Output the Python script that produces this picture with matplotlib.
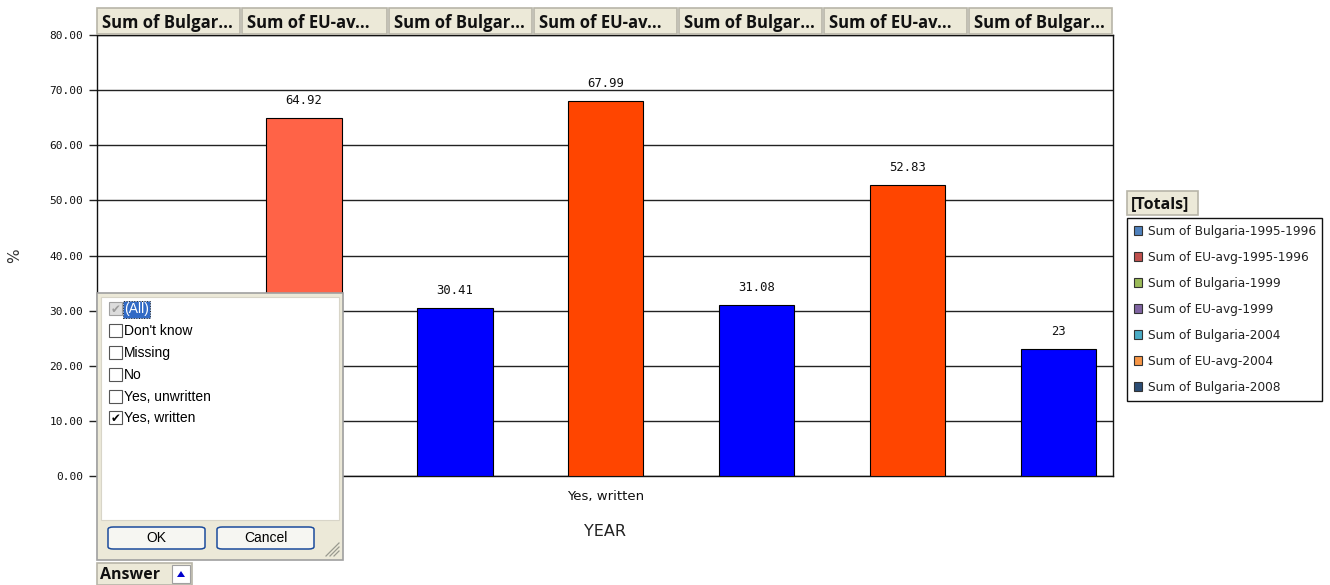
import matplotlib
matplotlib.use("Agg")
import matplotlib.pyplot as plt
from matplotlib.patches import Rectangle, FancyBboxPatch, Polygon
from matplotlib.lines import Line2D

# ---------------- data ----------------
series_names = ["Sum of Bulgaria-1995-1996", "Sum of EU-avg-1995-1996",
                "Sum of Bulgaria-1999", "Sum of EU-avg-1999",
                "Sum of Bulgaria-2004", "Sum of EU-avg-2004",
                "Sum of Bulgaria-2008"]
header_labels = ["Sum of Bulgar...", "Sum of EU-av...", "Sum of Bulgar...",
                 "Sum of EU-av...", "Sum of Bulgar...", "Sum of EU-av...",
                 "Sum of Bulgar..."]
# first value is hidden behind the filter panel (estimated); its label is not visible
values = [26.0, 64.92, 30.41, 67.99, 31.08, 52.83, 23.0]
value_labels = ["", "64.92", "30.41", "67.99", "31.08", "52.83", "23"]
bar_colors = ["#0000FF", "#FF6347", "#0000FF", "#FF4500", "#0000FF", "#FF4500", "#0000FF"]
legend_colors = ["#4F81BD", "#C0504D", "#9BBB59", "#8064A2", "#4BACC6", "#F79646", "#2C4D75"]
category = "Yes, written"
y_ticks = [0, 10, 20, 30, 40, 50, 60, 70, 80]
filter_items = ["(All)", "Don't know", "Missing", "No", "Yes, unwritten", "Yes, written"]
filter_checked = [True, False, False, False, False, True]

W, H = 1330, 585
fig = plt.figure(figsize=(W / 100, H / 100), dpi=100)
fig.patch.set_facecolor("white")


def fx(x):
    return x / W


def fy(y):
    return 1 - y / H


ax = fig.add_axes([fx(97), fy(476), fx(1113) - fx(97), fy(35) - fy(476)])
ax.set_zorder(1)
x = list(range(len(values)))
bars = ax.bar(x, values, width=0.5, color=bar_colors, edgecolor="black",
              linewidth=0.8, zorder=3)
for xi, v, lab in zip(x, values, value_labels):
    if not lab:
        continue
    ax.annotate(lab, (xi, v), xytext=(0, 8), textcoords="offset points",
                ha="center", va="bottom", fontsize=8.8, family="DejaVu Sans Mono",
                color="#111111", zorder=4)

ax.set_ylim(0, 80)
ax.set_xlim(-0.371, 6.361)
ax.set_yticks(y_ticks)
ax.set_yticklabels([f"{t:.2f}" for t in y_ticks], family="DejaVu Sans Mono",
                   fontsize=8, color="#111111")
ax.yaxis.grid(True, color="#222222", linewidth=1.0, zorder=0)
ax.set_axisbelow(True)
ax.tick_params(axis="y", length=6, width=1.0, pad=4, color="#222222")
ax.set_xticks([3])
ax.set_xticklabels([category], fontsize=9.5, family="DejaVu Sans", color="#111111")
ax.tick_params(axis="x", length=0, pad=10)
for s in ["left", "right", "bottom", "top"]:
    ax.spines[s].set_color("#111111")
    ax.spines[s].set_linewidth(1.0)
ax.set_ylabel("%", fontsize=11, color="#333333")
ax.yaxis.set_label_coords((22 - 97) / 1016, 0.5)
ax.set_xlabel("YEAR", fontsize=11.5, color="#222222", family="DejaVu Sans")
ax.xaxis.set_label_coords(0.5, -(531 - 476) / 441)
ax.xaxis.label.set_va("center")

# ---------------- header buttons ----------------
starts = [97, 242, 389, 534, 679, 824, 969]
for i, lab in enumerate(header_labels):
    x0 = starts[i]
    x1 = starts[i + 1] - 2 if i + 1 < len(starts) else 1112
    fig.add_artist(Rectangle((fx(x0), fy(34)), fx(x1) - fx(x0), fy(8) - fy(34),
                             transform=fig.transFigure, facecolor="#ECE9D8",
                             edgecolor="#B8B5A8", linewidth=1.2, zorder=5))
    fig.text(fx(x0 + 5), fy(22.5), lab, ha="left", va="center", fontsize=12,
             fontweight="bold", family="Open Sans", color="#111111", zorder=6)

# ---------------- legend ----------------
handles = [Rectangle((0, 0), 1, 1, facecolor=c, edgecolor="#333333", linewidth=0.8)
           for c in legend_colors]
leg = ax.legend(handles, series_names, loc="upper left",
                bbox_to_anchor=(fx(1127), fy(218)), bbox_transform=fig.transFigure,
                borderaxespad=0, frameon=True, fancybox=False, edgecolor="#111111",
                framealpha=1, prop={"family": "DejaVu Sans", "size": 8.7},
                handlelength=0.7, handleheight=0.7, handletextpad=0.45,
                labelspacing=1.08, borderpad=0.55)
leg.get_frame().set_linewidth(1.0)
for t in leg.get_texts():
    t.set_color("#222222")
fig.add_artist(Rectangle((fx(1127), fy(215)), fx(1198) - fx(1127), fy(191) - fy(215),
                         transform=fig.transFigure, facecolor="#ECE9D8",
                         edgecolor="#B8B5A8", linewidth=1.2, zorder=5))
fig.text(fx(1131), fy(204), "[Totals]", ha="left", va="center", fontsize=11.5,
         fontweight="bold", family="Open Sans", color="#111111", zorder=6)

# ---------------- filter dropdown panel ----------------
fig.add_artist(Rectangle((fx(97), fy(560)), fx(343) - fx(97), fy(293) - fy(560),
                         transform=fig.transFigure, facecolor="#ECE9D8",
                         edgecolor="#A0A0A0", linewidth=1.2, zorder=10))
fig.add_artist(Rectangle((fx(101), fy(520)), fx(339) - fx(101), fy(297) - fy(520),
                         transform=fig.transFigure, facecolor="white",
                         edgecolor="#D8D5C8", linewidth=0.8, zorder=11))
item_y = [309, 331, 353, 375, 397, 418]
for lab, yy, chk in zip(filter_items, item_y, filter_checked):
    grey = lab == "(All)"
    fig.add_artist(Rectangle((fx(109), fy(yy + 6)), fx(13), fy(0) - fy(13),
                             transform=fig.transFigure,
                             facecolor="#DCDCDC" if grey else "white",
                             edgecolor="#A0A0A0" if grey else "#555555",
                             linewidth=0.8, zorder=12))
    if chk:
        fig.text(fx(115.5), fy(yy + 0.5), "\u2714", ha="center", va="center",
                 fontsize=8.5, family="DejaVu Sans",
                 color="#9A9A9A" if grey else "black", zorder=13)
    if grey:
        fig.add_artist(Rectangle((fx(123), fy(318)), fx(150) - fx(123), fy(301) - fy(318),
                                 transform=fig.transFigure, facecolor="#316AC5",
                                 edgecolor="#222222", linewidth=0.7,
                                 linestyle=":", zorder=12))
    fig.text(fx(124), fy(yy), lab, ha="left", va="center", fontsize=10,
             family="Liberation Sans", color="white" if grey else "black", zorder=13)

for bx0, bx1, blab in [(108, 205, "OK"), (217, 314, "Cancel")]:
    fig.add_artist(FancyBboxPatch((fx(bx0), fy(549)), fx(bx1) - fx(bx0), fy(527) - fy(549),
                                  boxstyle="round,pad=0,rounding_size=0.004",
                                  transform=fig.transFigure, facecolor="#F6F6F2",
                                  edgecolor="#1C4C9C", linewidth=1.1, zorder=12))
    fig.text(fx((bx0 + bx1) / 2), fy(538), blab, ha="center", va="center",
             fontsize=10, family="Liberation Sans", color="black", zorder=13)
for k in range(3):
    off = 4 * k
    fig.add_artist(Line2D([fx(326 + off), fx(339)], [fy(556), fy(543 + off)],
                          transform=fig.transFigure, color="#9A9A90",
                          linewidth=0.9, zorder=12))

# Answer button
fig.add_artist(Rectangle((fx(97), fy(585)), fx(192) - fx(97), fy(563) - fy(585),
                         transform=fig.transFigure, facecolor="#ECE9D8",
                         edgecolor="#B8B5A8", linewidth=1.2, zorder=10))
fig.text(fx(100), fy(575), "Answer", ha="left", va="center", fontsize=11.5,
         fontweight="bold", family="Open Sans", color="#111111", zorder=11)
fig.add_artist(Rectangle((fx(172), fy(583)), fx(18), fy(0) - fy(18),
                         transform=fig.transFigure, facecolor="white",
                         edgecolor="#A0A0A0", linewidth=0.8, zorder=11))
fig.add_artist(Polygon([[fx(177), fy(577)], [fx(185), fy(577)], [fx(181), fy(571)]],
                       closed=True, transform=fig.transFigure, facecolor="#0000CC",
                       edgecolor="none", zorder=12))

fig.savefig("out.png", dpi=100)
